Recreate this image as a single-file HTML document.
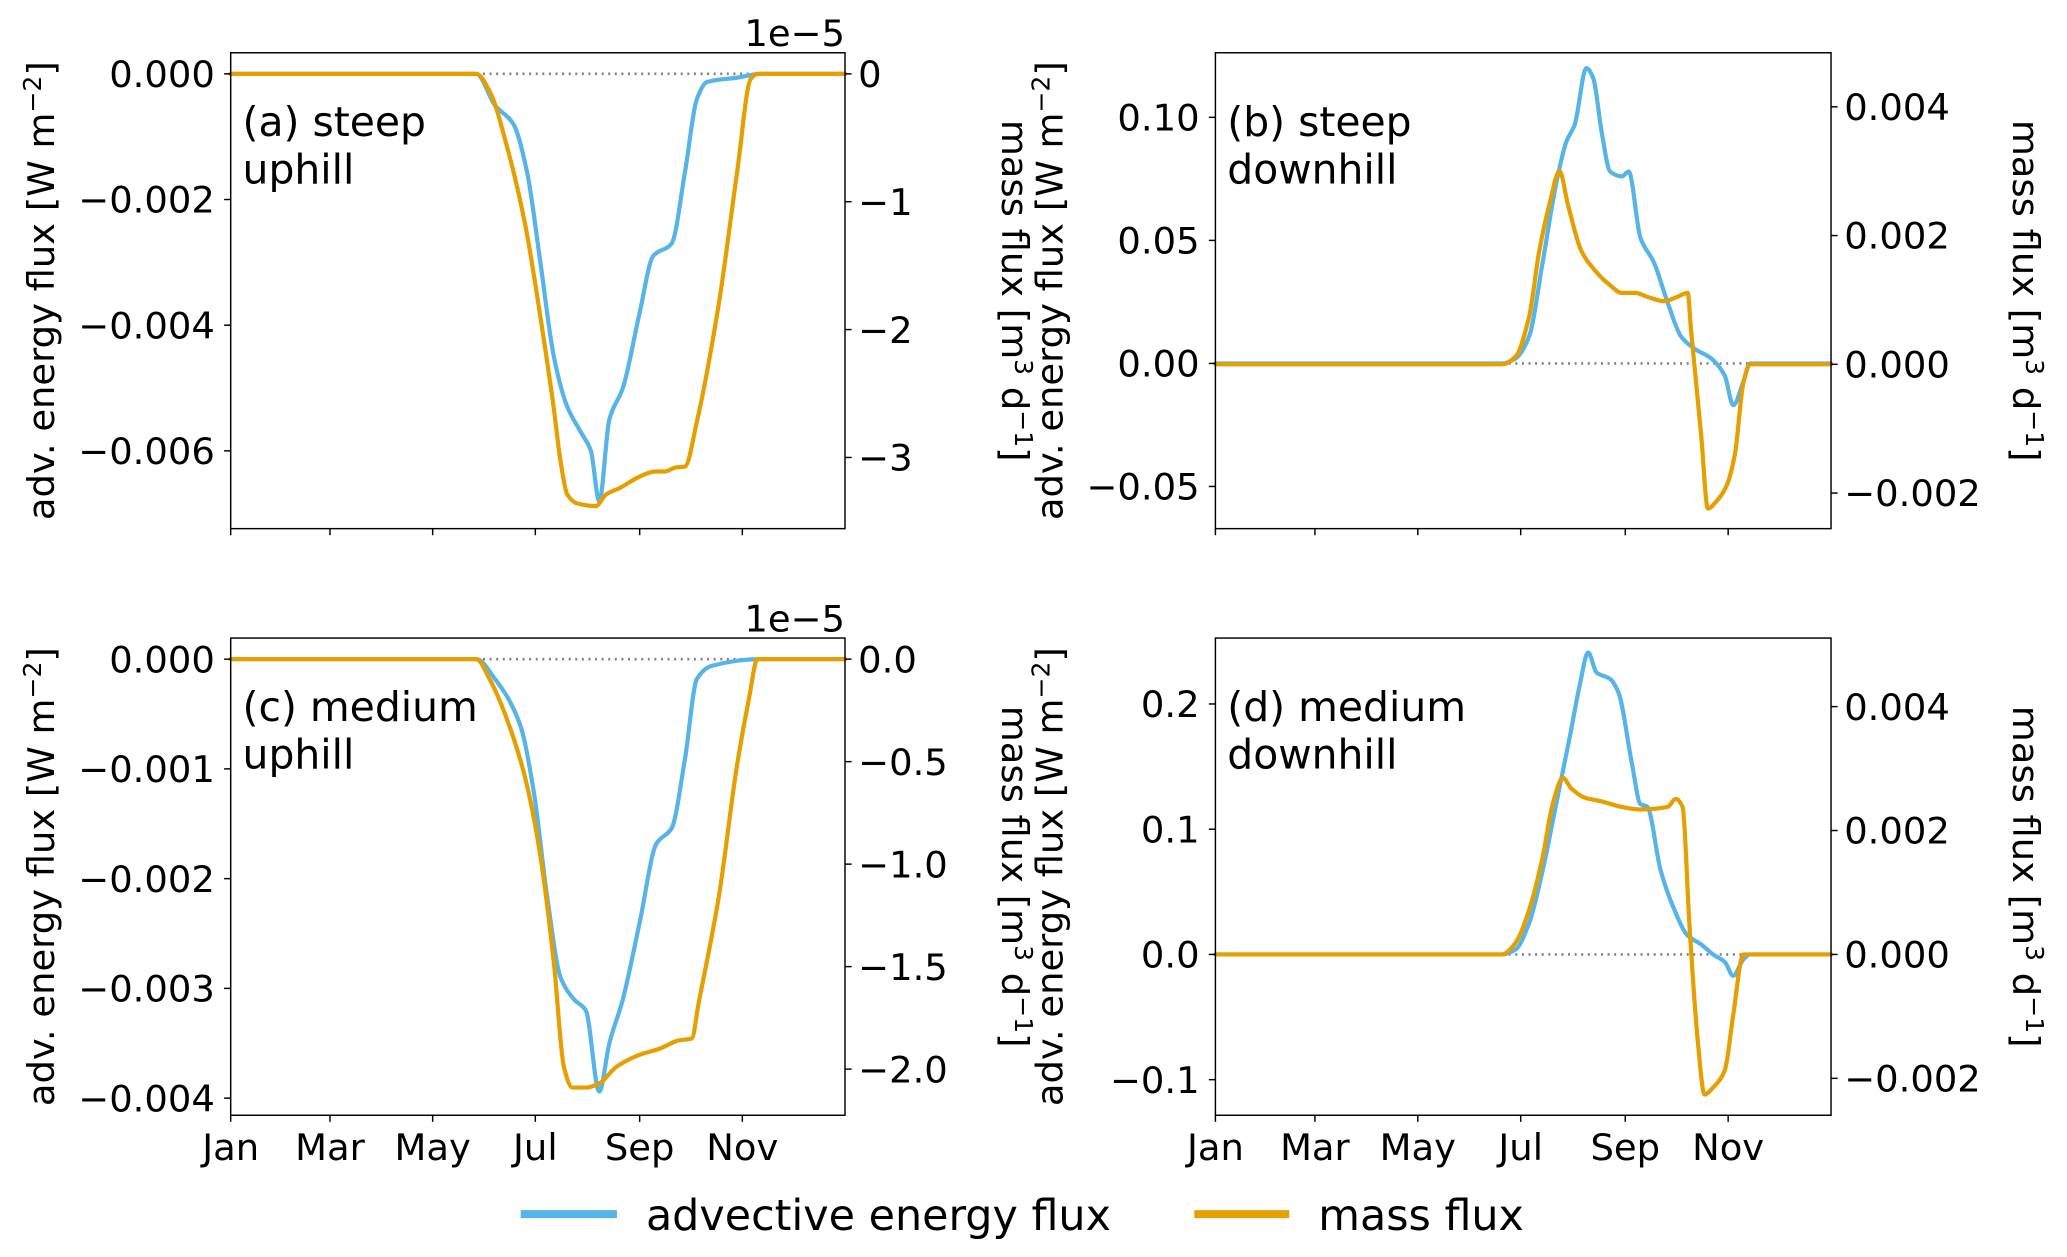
<!DOCTYPE html>
<html><head><meta charset="utf-8"><style>
html,body{margin:0;padding:0;background:#fff;overflow:hidden}
svg{display:block;font-family:"DejaVu Sans","Liberation Sans",sans-serif}
</style></head><body>
<svg id="fig" width="2067" height="1257" viewBox="0 0 1568 953.5" xmlns="http://www.w3.org/2000/svg"></svg>
<script>
const monthLabels=["Jan","Mar","May","Jul","Sep","Nov"];
const monthDays=[0,59,120,181,243,304];
// panel (a)
const aEnergyDays=[0,146,157,168,176,184,192,200,208,214,219,225,233,243,251,262,270,277,283,301,315,365];
const aEnergyVals=[0,0,-0.0005,-0.0008,-0.00155,-0.003,-0.0045,-0.0053,-0.0057,-0.006,-0.0068,-0.0055,-0.005,-0.0038,-0.0029,-0.0027,-0.00155,-0.0004,-0.00013,-0.00006,0,0];
const aMassDays=[0,146,154,164,175,184,192,196,200,206,217,223,231,243,252,258,264,270,277,290,301,309,313,365];
const aMassVals=[0,0,-0.14,-0.56,-1.18,-1.9,-2.62,-3.03,-3.29,-3.36,-3.38,-3.29,-3.24,-3.15,-3.11,-3.11,-3.08,-3.07,-2.72,-1.8,-0.76,-0.04,0,0];
// panel (c)
const cEnergyDays=[0,146,157,172,180,188,196,204,211,219,225,233,243,253,262,270,277,286,315,365];
const cEnergyVals=[0,0,-0.00018,-0.0006,-0.0012,-0.00216,-0.0029,-0.0031,-0.0032,-0.00394,-0.0035,-0.0031,-0.0024,-0.00168,-0.00154,-0.0009,-0.00018,-0.00006,0,0];
const cMassDays=[0,146,154,164,175,184,192,198,203,211,219,229,243,255,266,274,278,290,301,308,313,365];
const cMassVals=[0,0,-0.1,-0.29,-0.58,-0.96,-1.48,-1.99,-2.09,-2.09,-2.07,-1.99,-1.93,-1.9,-1.86,-1.85,-1.68,-1.16,-0.51,-0.19,0,0];
// panel (b)
const bEnergyDays=[0,170,178,186,194,202,208,213,220,224,229,234,241,245,252,260,268,276,284,294,302,307,313,317,365];
const bEnergyVals=[0,0,0.002,0.011,0.041,0.073,0.09,0.097,0.12,0.116,0.094,0.078,0.076,0.078,0.051,0.041,0.025,0.011,0.006,0.002,-0.005,-0.017,-0.0075,0,0];
const bMassDays=[0,170,178,186,192,198,204,209,217,225,233,241,249,256,266,274,280,282,288,292,297,303,308,313,317,365];
const bMassVals=[0,0,0.00012,0.00074,0.00176,0.00248,0.003,0.00248,0.00176,0.00146,0.00125,0.00111,0.00111,0.00105,0.00098,0.00105,0.00111,0.00053,-0.0011,-0.00224,-0.00213,-0.00189,-0.0014,-0.00029,0,0];
// panel (d)
const dEnergyDays=[0,170,178,186,194,202,210,216,221,226,234,239,247,252,256,264,272,280,288,295,302,307,313,317,365];
const dEnergyVals=[0,0,0.004,0.025,0.067,0.12,0.173,0.215,0.241,0.225,0.22,0.209,0.152,0.12,0.118,0.067,0.036,0.015,0.008,0,-0.006,-0.017,-0.004,0,0];
const dMassDays=[0,170,178,186,194,200,206,211,219,229,241,252,268,273,277,281,286,290,295,302,307,313,365];
const dMassVals=[0,0,0.00019,0.00072,0.00157,0.00243,0.00285,0.00268,0.00253,0.00247,0.00238,0.00234,0.00238,0.00251,0.00238,0.0005,-0.0014,-0.00226,-0.00215,-0.00187,-0.00098,0,0];
const aLeftTicks=[0,-0.002,-0.004,-0.006], aLeftLabels=["0.000","\u22120.002","\u22120.004","\u22120.006"];
const aRightTicks=[0,-1,-2,-3], aRightLabels=["0","\u22121","\u22122","\u22123"];
const cLeftTicks=[0,-0.001,-0.002,-0.003,-0.004], cLeftLabels=["0.000","\u22120.001","\u22120.002","\u22120.003","\u22120.004"];
const cRightTicks=[0,-0.5,-1,-1.5,-2], cRightLabels=["0.0","\u22120.5","\u22121.0","\u22121.5","\u22122.0"];
const bLeftTicks=[0.1,0.05,0,-0.05], bLeftLabels=["0.10","0.05","0.00","\u22120.05"];
const bRightTicks=[0.004,0.002,0,-0.002], bRightLabels=["0.004","0.002","0.000","\u22120.002"];
const dLeftTicks=[0.2,0.1,0,-0.1], dLeftLabels=["0.2","0.1","0.0","\u22120.1"];
const dRightTicks=[0.004,0.002,0,-0.002], dRightLabels=["0.004","0.002","0.000","\u22120.002"];
const aZero=[146,315], bZero=[170,317];

const NS="http://www.w3.org/2000/svg";
const svg=document.getElementById('fig');
const FS=28;
function mk(tag,attrs,parent){const e=document.createElementNS(NS,tag);for(const k in attrs)e.setAttribute(k,attrs[k]);(parent||svg).appendChild(e);return e;}
function txt(s,attrs,parent){const e=mk('text',attrs,parent);e.textContent=s;return e;}
function lin(d0,p0,d1,p1){return v=>p0+(v-d0)*(p1-p0)/(d1-d0);}
// monotone cubic (Fritsch-Carlson) path
function smoothPath(p){
  const n=p.length, dx=[], s=[], m=[];
  for(let i=0;i<n-1;i++){dx[i]=p[i+1][0]-p[i][0];s[i]=(p[i+1][1]-p[i][1])/dx[i];}
  m[0]=s[0];m[n-1]=s[n-2];
  for(let i=1;i<n-1;i++){
    if(s[i-1]*s[i]<=0)m[i]=0;
    else{const w1=2*dx[i]+dx[i-1],w2=dx[i]+2*dx[i-1];m[i]=(w1+w2)/(w1/s[i-1]+w2/s[i]);}
  }
  let d='M'+p[0][0].toFixed(2)+','+p[0][1].toFixed(2);
  for(let i=0;i<n-1;i++){
    const h=dx[i]/3;
    d+=' C'+(p[i][0]+h).toFixed(2)+','+(p[i][1]+m[i]*h).toFixed(2)+' '+(p[i+1][0]-h).toFixed(2)+','+(p[i+1][1]-m[i+1]*h).toFixed(2)+' '+p[i+1][0].toFixed(2)+','+p[i+1][1].toFixed(2);
  }
  return d;
}
function panel(P){
  const g=mk('g',{});
  
  
  const X=lin(0,P.x0,365,P.x1);
  const YL=lin(P.l[0],P.l[1],P.l[2],P.l[3]);
  const YR=lin(P.r[0],P.r[1],P.r[2],P.r[3]);
  const z=mk('line',{x1:X(P.zero[0]),x2:X(P.zero[1]),y1:YL(0),y2:YL(0),stroke:'#808080','stroke-width':2,'stroke-dasharray':'1.5 3.5'},g);
  
  
  function series(days,vals,Y,color,nm){
    const pts=days.map((d,i)=>[X(d),Y(vals[i])]);
    const p=mk('path',{d:smoothPath(pts),fill:'none',stroke:color,'stroke-width':3.2,'stroke-linejoin':'round','stroke-linecap':'round'},g);
    
    
  }
  series(P.ed,P.ev,YL,'#56B4E9','advective-energy-flux-line');
  series(P.md,P.mv,YR,'#E69F00','mass-flux-line');
  const f=mk('rect',{x:P.x0,y:P.y0,width:P.x1-P.x0,height:P.y1-P.y0,fill:'none',stroke:'#000','stroke-width':1.1},g);
  
  
  P.lt.forEach((v,i)=>{
    mk('line',{x1:P.x0-5,x2:P.x0,y1:YL(v),y2:YL(v),stroke:'#000','stroke-width':1.1},g);
    const t=txt(P.ll[i],{x:P.x0-12,y:YL(v)+10,'text-anchor':'end','font-size':FS},g);
    
    
  });
  P.rt.forEach((v,i)=>{
    mk('line',{x1:P.x1,x2:P.x1+5,y1:YR(v),y2:YR(v),stroke:'#000','stroke-width':1.1},g);
    const t=txt(P.rl[i],{x:P.x1+10,y:YR(v)+10,'text-anchor':'start','font-size':FS},g);
    
    
  });
  monthDays.forEach((d,i)=>{
    mk('line',{x1:X(d),x2:X(d),y1:P.y1,y2:P.y1+5,stroke:'#000','stroke-width':1.1},g);
    if(P.xlab){
      const t=txt(monthLabels[i],{x:X(d),y:P.y1+34,'text-anchor':'middle','font-size':FS},g);
      
      
    }
  });
  if(P.exp){const t=txt('1e\u22125',{x:P.x1,y:P.y0-5,'text-anchor':'end','font-size':FS},g);
    
    }
  const t1=txt(P.t1,{x:P.x0+9,y:P.y0+63,'font-size':31},g);
  
  
  const t2=txt(P.t2,{x:P.x0+9,y:P.y0+99,'font-size':31},g);
  
  
  const cy=(P.y0+P.y1)/2;
  const yl=mk('text',{x:0,y:0,transform:`translate(${P.ylx},${cy}) rotate(-90)`,'text-anchor':'middle','font-size':FS},g);
  yl.innerHTML='adv. energy flux [W m<tspan dy="-10" font-size="19">\u22122</tspan><tspan dy="10">]</tspan>';
  
  
  const yr=mk('text',{x:0,y:0,transform:`translate(${P.yrx},${cy}) rotate(90)`,'text-anchor':'middle','font-size':FS},g);
  yr.innerHTML='mass flux [m<tspan dy="-10" font-size="19">3</tspan><tspan dy="10"> d</tspan><tspan dy="-10" font-size="19">\u22121</tspan><tspan dy="10">]</tspan>';
  
  
}
panel({name:'panel-a-steep-uphill',x0:175,x1:641,y0:40,y1:401,l:[0,56,-0.006,342],r:[0,56,-3,347],ed:aEnergyDays,ev:aEnergyVals,md:aMassDays,mv:aMassVals,lt:aLeftTicks,ll:aLeftLabels,rt:aRightTicks,rl:aRightLabels,zero:aZero,xlab:false,exp:true,t1:'(a) steep',t2:'uphill',ylx:41,yrx:760});
panel({name:'panel-b-steep-downhill',x0:922,x1:1389,y0:40,y1:401,l:[0.1,89,-0.05,369],r:[0.004,81,-0.002,374],ed:bEnergyDays,ev:bEnergyVals,md:bMassDays,mv:bMassVals,lt:bLeftTicks,ll:bLeftLabels,rt:bRightTicks,rl:bRightLabels,zero:bZero,xlab:false,exp:false,t1:'(b) steep',t2:'downhill',ylx:806,yrx:1527});
panel({name:'panel-c-medium-uphill',x0:175,x1:641,y0:484,y1:846,l:[0,500,-0.004,833],r:[0,500,-2,811],ed:cEnergyDays,ev:cEnergyVals,md:cMassDays,mv:cMassVals,lt:cLeftTicks,ll:cLeftLabels,rt:cRightTicks,rl:cRightLabels,zero:aZero,xlab:true,exp:true,t1:'(c) medium',t2:'uphill',ylx:41,yrx:760});
panel({name:'panel-d-medium-downhill',x0:922,x1:1389,y0:484,y1:846,l:[0.2,534,-0.1,819],r:[0.004,536,-0.002,818],ed:dEnergyDays,ev:dEnergyVals,md:dMassDays,mv:dMassVals,lt:dLeftTicks,ll:dLeftLabels,rt:dRightTicks,rl:dRightLabels,zero:bZero,xlab:true,exp:false,t1:'(d) medium',t2:'downhill',ylx:806,yrx:1527});
const lg=mk('g',{});


const l1=mk('line',{x1:395,x2:468,y1:921,y2:921,stroke:'#56B4E9','stroke-width':6},lg);


const lt1=txt('advective energy flux',{x:490,y:933,'font-size':32.5},lg);


const l2=mk('line',{x1:906,x2:978,y1:921,y2:921,stroke:'#E69F00','stroke-width':6},lg);


const lt2=txt('mass flux',{x:1000,y:933,'font-size':32.5},lg);


</script>
</body></html>
